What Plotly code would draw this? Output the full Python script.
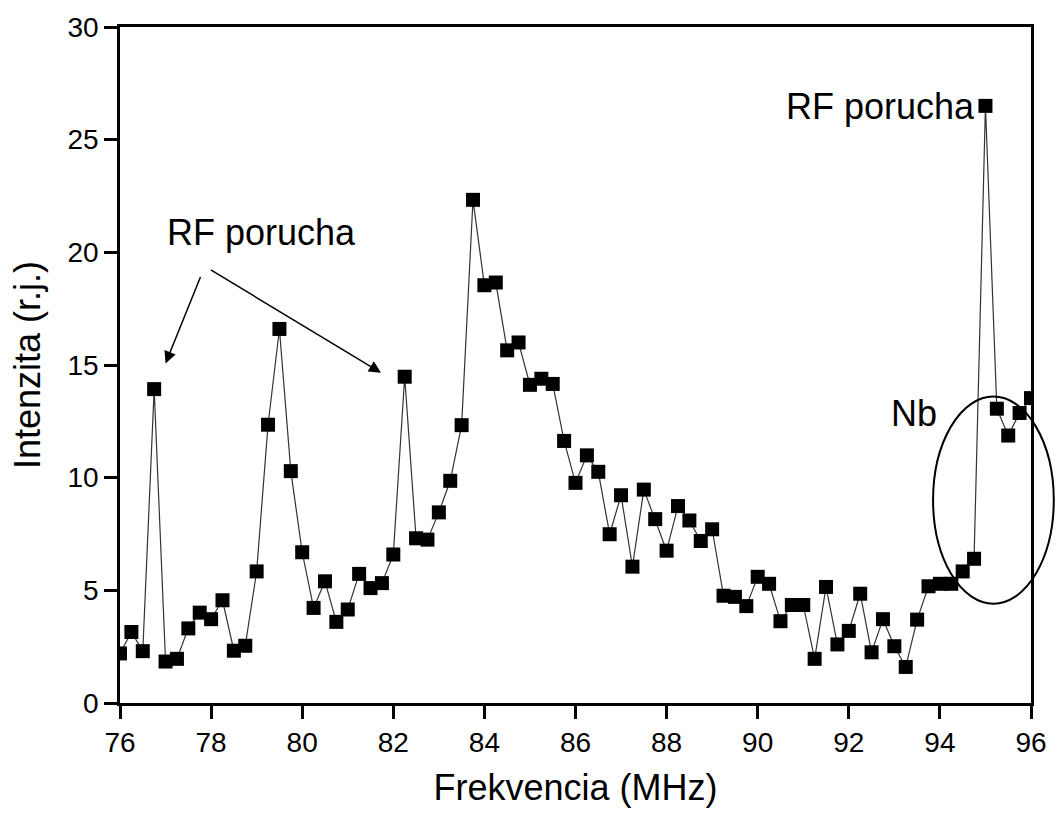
import plotly.graph_objects as go

freq_mhz = [76.0, 76.25, 76.5, 76.75, 77.0, 77.25, 77.5, 77.75, 78.0, 78.25, 78.5, 78.75,
            79.0, 79.25, 79.5, 79.75, 80.0, 80.25, 80.5, 80.75, 81.0, 81.25, 81.5, 81.75,
            82.0, 82.25, 82.5, 82.75, 83.0, 83.25, 83.5, 83.75, 84.0, 84.25, 84.5, 84.75,
            85.0, 85.25, 85.5, 85.75, 86.0, 86.25, 86.5, 86.75, 87.0, 87.25, 87.5, 87.75,
            88.0, 88.25, 88.5, 88.75, 89.0, 89.25, 89.5, 89.75, 90.0, 90.25, 90.5, 90.75,
            91.0, 91.25, 91.5, 91.75, 92.0, 92.25, 92.5, 92.75, 93.0, 93.25, 93.5, 93.75,
            94.0, 94.25, 94.5, 94.75, 95.0, 95.25, 95.5, 95.75, 96.0]
intensity = [2.2, 3.15, 2.3, 13.93, 1.84, 1.96, 3.31, 4.01, 3.72, 4.56, 2.32, 2.54,
             5.84, 12.35, 16.6, 10.29, 6.69, 4.22, 5.40, 3.60, 4.15, 5.73, 5.10, 5.32,
             6.59, 14.48, 7.31, 7.25, 8.46, 9.86, 12.33, 22.33, 18.54, 18.66, 15.65, 16.0,
             14.12, 14.39, 14.16, 11.63, 9.77, 10.99, 10.26, 7.49, 9.22, 6.05, 9.47, 8.16,
             6.76, 8.74, 8.10, 7.19, 7.71, 4.76, 4.71, 4.30, 5.6, 5.29, 3.63, 4.35,
             4.35, 1.96, 5.15, 2.6, 3.2, 4.85, 2.25, 3.72, 2.52, 1.6, 3.7, 5.18,
             5.29, 5.29, 5.84, 6.4, 26.5, 13.06, 11.87, 12.87, 13.53]

x_ticks = [76, 78, 80, 82, 84, 86, 88, 90, 92, 94, 96]
y_ticks = [0, 5, 10, 15, 20, 25, 30]
x_range = [76, 96]
y_range = [0, 30]

# Ellipse around the Nb region (data coordinates), converted to paper so it is not clipped
ell_x = [93.85, 96.5]
ell_y = [4.41, 13.6]

def to_paper_x(v):
    return (v - x_range[0]) / (x_range[1] - x_range[0])

def to_paper_y(v):
    return (v - y_range[0]) / (y_range[1] - y_range[0])

FONT = "Arial, Liberation Sans, sans-serif"

fig = go.Figure()
fig.add_trace(go.Scatter(
    x=freq_mhz, y=intensity, mode="lines+markers",
    line=dict(color="#333333", width=1.2),
    marker=dict(symbol="square", size=14, color="black"),
    showlegend=False,
))

axis_common = dict(
    showgrid=False, zeroline=False, showline=True, linecolor="black", linewidth=2.5,
    mirror=True, ticks="outside", ticklen=13, tickwidth=2.5, tickcolor="black",
    tickfont=dict(family=FONT, size=28, color="black"),
    title_font=dict(family=FONT, size=36, color="black"),
)

fig.update_xaxes(range=x_range, tickvals=x_ticks, title_text="Frekvencia (MHz)",
                 title_standoff=18, **axis_common)
fig.update_yaxes(range=y_range, tickvals=y_ticks, title_text="Intenzita (r.j.)",
                 title_standoff=16, **axis_common)

annotations = [
    dict(x=79.1, y=20.86, xref="x", yref="y", text="RF porucha", showarrow=False,
         font=dict(family=FONT, size=36, color="black")),
    dict(x=94.82, y=26.45, xref="x", yref="y", text="RF porucha", showarrow=False,
         xanchor="right", font=dict(family=FONT, size=36, color="black")),
    dict(x=93.43, y=12.85, xref="x", yref="y", text="Nb", showarrow=False,
         font=dict(family=FONT, size=36, color="black")),
    dict(x=77.0, y=15.07, ax=77.78, ay=18.97, xref="x", yref="y", axref="x", ayref="y",
         text="", showarrow=True, arrowhead=2, arrowsize=1.6, arrowwidth=1.5, arrowcolor="black"),
    dict(x=81.73, y=14.66, ax=77.96, ay=19.26, xref="x", yref="y", axref="x", ayref="y",
         text="", showarrow=True, arrowhead=2, arrowsize=1.6, arrowwidth=1.5, arrowcolor="black"),
]
fig.update_layout(annotations=annotations)

fig.add_shape(type="circle", xref="paper", yref="paper",
              x0=to_paper_x(ell_x[0]), x1=to_paper_x(ell_x[1]),
              y0=to_paper_y(ell_y[0]), y1=to_paper_y(ell_y[1]),
              line=dict(color="black", width=2), layer="above")

fig.update_layout(
    width=1059, height=814,
    margin=dict(l=120, r=20, t=25, b=109),
    paper_bgcolor="white", plot_bgcolor="white",
    font=dict(family=FONT, color="black"),
)

fig.write_html("out.html")
